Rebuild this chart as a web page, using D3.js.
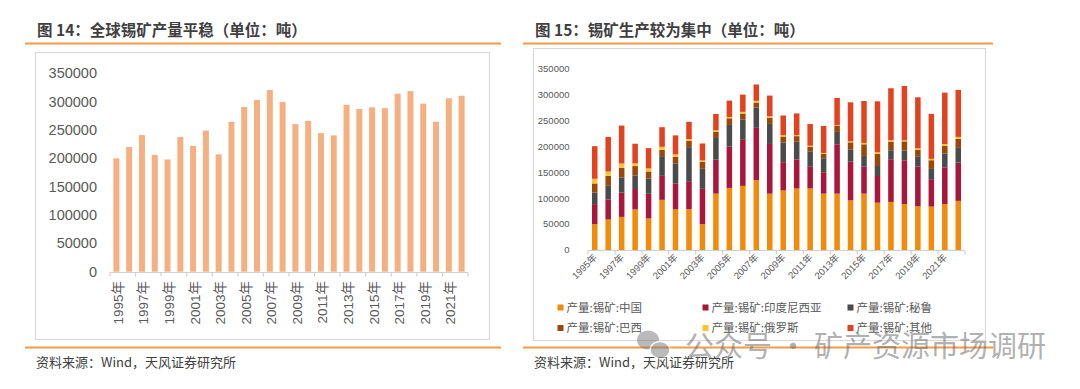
<!DOCTYPE html>
<html>
<head>
<meta charset="utf-8">
<script src="https://cdn.jsdelivr.net/npm/d3@7/dist/d3.min.js"></script>
<style>
  body { margin: 0; background: #fff; }
  svg { display: block; }
  text { font-family: "Liberation Sans", Arial, "Noto Sans CJK SC", sans-serif; }
  .cjk { font-family: "Noto Sans CJK SC", sans-serif; }
</style>
</head>
<body>
<svg id="canvas" width="1080" height="389"></svg>
<script>
// years 1995 - 2022
var years = d3.range(1995, 2023).map(function(d) { return d + "年"; });

// left chart: global tin mine output (t)
var total = [200000, 220000, 241000, 206000, 198000, 237500, 222000, 249000, 207000, 264500,
             290500, 303000, 320500, 299500, 260500, 266000, 244500, 240500, 294500, 287000,
             290000, 288500, 314000, 318500, 296500, 264500, 306000, 310500];

// right chart: output by country (t)
var china     = [50000, 59000, 64000, 78500, 61000, 97000, 78500, 79000, 50000, 109000,
                 120000, 124000, 135000, 109000, 115000, 119000, 119000, 109000, 109000, 96000,
                 109000, 91500, 93000, 89000, 84500, 84000, 89000, 95000];
var indonesia = [38700, 38700, 47100, 39400, 47700, 46400, 49700, 54100, 68300, 65800,
                 79900, 89000, 101200, 96100, 54800, 56100, 42000, 41300, 95400, 74800,
                 52300, 51600, 82500, 84400, 76800, 52900, 70900, 74100];
var peru      = [22500, 26400, 29000, 26400, 29700, 38100, 39300, 65800, 38700, 41900,
                 41900, 39300, 39300, 38700, 38100, 34200, 29000, 27100, 23900, 23900,
                 20600, 19300, 17400, 18700, 19900, 19900, 26400, 28300];
var brazil    = [17500, 19300, 18700, 18000, 13500, 12200, 12900, 12200, 13500, 12200,
                 12900, 11600, 9700, 12200, 11600, 10900, 9600, 8300, 11600, 13500,
                 22500, 23200, 16800, 18000, 12900, 16800, 15500, 17400];
var russia    = [9000, 8400, 8400, 5200, 5800, 5800, 4500, 3200, 2600, 2600,
                 2600, 3200, 3200, 2600, 2500, 2000, 2000, 2000, 1300, 1900,
                 2600, 3300, 2600, 2000, 2600, 2600, 3200, 3900];
var other     = [63000, 66900, 73400, 38000, 39300, 38000, 36700, 33600, 32900, 31600,
                 31600, 33500, 31600, 40000, 38100, 41900, 41900, 52200, 52800, 75500,
                 81200, 98600, 100500, 105000, 98600, 87000, 99300, 90900];

var seriesNames = ["产量:锡矿:中国", "产量:锡矿:印度尼西亚", "产量:锡矿:秘鲁",
                   "产量:锡矿:巴西", "产量:锡矿:俄罗斯", "产量:锡矿:其他"];
var seriesColors = ["#F28A0A", "#A8173B", "#4B4B4B", "#9A4807", "#FFC22E", "#E3421F"];
var yTicks = [0, 50000, 100000, 150000, 200000, 250000, 300000, 350000];

var svg = d3.select("#canvas");

// ---------- headers, rules and frames ----------
function header(x0, x1, title, frame) {
  svg.append("text").attr("class", "cjk")
    .attr("x", x0 + 12).attr("y", 36)
    .attr("font-size", 15.5).attr("font-weight", "bold").attr("fill", "#3f3f3f")
    .text(title);
  svg.append("line").attr("x1", x0).attr("x2", x1).attr("y1", 43.5).attr("y2", 43.5)
    .attr("stroke", "#F39A48").attr("stroke-width", 2);
  svg.append("line").attr("x1", x0).attr("x2", x1).attr("y1", 347.5).attr("y2", 347.5)
    .attr("stroke", "#F39A48").attr("stroke-width", 2);
  svg.append("rect").attr("x", frame[0]).attr("y", frame[1])
    .attr("width", frame[2] - frame[0]).attr("height", frame[3] - frame[1])
    .attr("fill", "none").attr("stroke", "#d9d9d9").attr("stroke-width", 1.2);
  svg.append("text").attr("class", "cjk")
    .attr("x", x0 + 11).attr("y", 367)
    .attr("font-size", 13).attr("fill", "#404040")
    .text("资料来源：Wind，天风证券研究所");
}
header(25, 501, "图 14：全球锡矿产量平稳（单位：吨）", [35.5, 52.5, 489.5, 339.5]);
header(523, 993, "图 15：锡矿生产较为集中（单位：吨）", [533.5, 48.5, 985.5, 340.5]);

// ---------- left chart ----------
var xL = d3.scaleBand().domain(years).range([110, 468]).paddingInner(0.53).paddingOuter(0.265);
var yL = d3.scaleLinear().domain([0, 350000]).range([271.7, 73.3]);

var gL = svg.append("g");
gL.selectAll(".ylab").data(yTicks).enter().append("text")
  .attr("x", 97).attr("y", function(d) { return yL(d); }).attr("dy", "0.35em")
  .attr("text-anchor", "end").attr("font-size", 14.5).attr("fill", "#595959")
  .text(function(d) { return d; });

gL.selectAll(".bar").data(total).enter().append("rect")
  .attr("x", function(d, i) { return xL(years[i]); })
  .attr("width", xL.bandwidth())
  .attr("y", function(d) { return yL(d); })
  .attr("height", function(d) { return yL(0) - yL(d); })
  .attr("fill", "#F5B081");

function drawXAxis(g, xs, y0, x0, x1) {
  g.append("line").attr("x1", x0).attr("x2", x1).attr("y1", y0).attr("y2", y0)
    .attr("stroke", "#d0d0d0").attr("stroke-width", 1.2);
  var ticks = years.filter(function(d, i) { return i % 2 === 0; }).map(function(d) {
    return xs(d) - xs.step() * xs.paddingOuter();
  });
  ticks.push(x1);
  g.selectAll(".tick").data(ticks).enter().append("line")
    .attr("x1", function(d) { return d; }).attr("x2", function(d) { return d; })
    .attr("y1", y0).attr("y2", y0 + 4)
    .attr("stroke", "#d0d0d0").attr("stroke-width", 1.2);
}
drawXAxis(gL, xL, 272.5, 110, 468);

gL.selectAll(".xlab").data(years.filter(function(d, i) { return i % 2 === 0; }))
  .enter().append("text")
  .attr("transform", function(d) {
    return "translate(" + (xL(d) + xL.bandwidth() / 2 + 6.5) + ",281) rotate(-90)";
  })
  .attr("text-anchor", "end").attr("font-size", 13.5).attr("fill", "#595959")
  .text(function(d) { return d; });

// ---------- right chart ----------
var xR = d3.scaleBand().domain(years).range([588, 965]).paddingInner(0.59).paddingOuter(0.295);
var yR = d3.scaleLinear().domain([0, 350000]).range([250, 69]);

var gR = svg.append("g");
gR.selectAll(".ylab").data(yTicks).enter().append("text")
  .attr("x", 569.5).attr("y", function(d) { return yR(d); }).attr("dy", "0.35em")
  .attr("text-anchor", "end").attr("font-size", 9.5).attr("fill", "#595959")
  .text(function(d) { return d; });

var table = years.map(function(y, i) {
  return { year: y, s0: china[i], s1: indonesia[i], s2: peru[i],
           s3: brazil[i], s4: russia[i], s5: other[i] };
});
var stack = d3.stack().keys(["s0", "s1", "s2", "s3", "s4", "s5"])(table);

gR.selectAll(".layer").data(stack).enter().append("g")
  .attr("fill", function(d, i) { return seriesColors[i]; })
  .selectAll("rect").data(function(d) { return d; }).enter().append("rect")
  .attr("x", function(d) { return xR(d.data.year); })
  .attr("width", xR.bandwidth())
  .attr("y", function(d) { return yR(d[1]); })
  .attr("height", function(d) { return yR(d[0]) - yR(d[1]); });

drawXAxis(gR, xR, 250.5, 588, 965);

gR.selectAll(".xlab").data(years.filter(function(d, i) { return i % 2 === 0; }))
  .enter().append("text")
  .attr("transform", function(d) {
    return "translate(" + (xR(d) + xR.bandwidth() / 2 + 3) + ",258) rotate(-45)";
  })
  .attr("text-anchor", "end").attr("font-size", 9.5).attr("fill", "#595959")
  .text(function(d) { return d; });

// legend
var legX = [557.5, 702.5, 847.5], legY = [307.5, 328];
var leg = gR.selectAll(".leg").data(seriesNames).enter().append("g")
  .attr("transform", function(d, i) {
    return "translate(" + legX[i % 3] + "," + legY[Math.floor(i / 3)] + ")";
  });
leg.append("rect").attr("x", 0).attr("y", -3).attr("width", 6).attr("height", 6)
  .attr("fill", function(d, i) { return seriesColors[i]; });
leg.append("text").attr("class", "cjk").attr("x", 9).attr("dy", "0.36em")
  .attr("font-size", 11.5).attr("fill", "#595959")
  .text(function(d) { return d; });

// watermark
var wm = svg.append("g").attr("opacity", 0.5);
wm.append("ellipse").attr("cx", 648).attr("cy", 340).attr("rx", 11).attr("ry", 9.5).attr("fill", "#777");
wm.append("ellipse").attr("cx", 660).attr("cy", 350).attr("rx", 10).attr("ry", 8.5)
  .attr("fill", "#777").attr("stroke", "#fff").attr("stroke-width", 1.5);
wm.append("text").attr("class", "cjk")
  .attr("x", 685).attr("y", 357).attr("font-size", 29).attr("fill", "#666")
  .text("公众号 · 矿产资源市场调研");
</script>
</body>
</html>
